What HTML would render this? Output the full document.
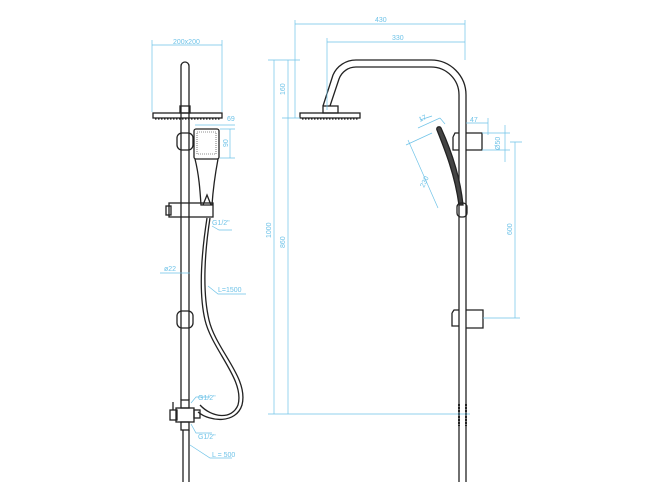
<!DOCTYPE html>
<html><head><meta charset="utf-8"><style>
html,body{margin:0;padding:0;background:#fff}
svg{display:block}
text{font-family:"Liberation Sans",sans-serif;font-size:7px;fill:#6fc3e8}
</style></head><body>
<svg width="670" height="504" viewBox="0 0 670 504" xmlns="http://www.w3.org/2000/svg">
<g fill="none" stroke="#222" stroke-width="1.3">
<!-- LEFT VIEW -->
<path d="M181 400 V66 a4 4 0 0 1 8 0 V400"/>
<path d="M183 430 V482 M189 430 V482"/>
<rect x="180" y="106" width="10" height="7"/>
<rect x="153" y="113" width="69" height="5"/>
<line x1="155" y1="119" x2="220" y2="119" stroke-dasharray="1.5 1.5"/>
<rect x="177" y="133" width="16" height="17" rx="5"/>
<rect x="177" y="311" width="16" height="17" rx="5"/>
<!-- handset -->
<rect x="194" y="129" width="25" height="30" rx="2"/>
<rect x="197" y="132" width="19" height="22" stroke-width="0.6" stroke-dasharray="1 1"/>
<path d="M195 159 C199 175 200 190 201 205 L212 205 C213 190 215 175 218 159"/>
<path d="M203 205 L207 195 L211 205"/>
<rect x="169" y="203" width="44" height="14"/>
<rect x="166" y="206" width="5" height="9"/>
<!-- hose -->
<path d="M207 218 C202 250 198 290 205 320 C212 350 245 380 238 405 C232 420 212 418 200 405"/>
<path d="M210 218 C205 250 202 290 209 320 C216 350 249 378 242 405 C236 424 210 422 198 412"/>
<!-- mixer -->
<rect x="181" y="400" width="8" height="8"/>
<rect x="176" y="408" width="18" height="14"/>
<rect x="170" y="410" width="7" height="10"/>
<line x1="173" y1="402" x2="173" y2="410"/>
<rect x="194" y="410" width="6" height="8"/>
<rect x="181" y="422" width="8" height="8"/>
<!-- RIGHT VIEW -->
<path d="M459 482 V95 a28 28 0 0 0 -28 -28 H356 a18 18 0 0 0 -17 12 L330 106"/>
<path d="M466 482 V95 a35 35 0 0 0 -35 -35 H356 a25 25 0 0 0 -23 15 L323 106"/>
<rect x="323" y="106" width="15" height="7"/>
<rect x="300" y="113" width="60" height="5"/>
<line x1="302" y1="119" x2="358" y2="119" stroke-dasharray="1.5 1.5"/>
<path d="M453 137 V150 H459 M466 133 H482 V150 H466 M459 133 H455 L453 137"/>
<path d="M452 313 V326 H459 M466 310 H483 V328 H466 M459 310 H454 L452 313"/>
<path d="M437 130 C445 150 455 175 459 205 L463 205 C460 175 451 150 441 128 a2 2 0 0 0 -4 2 Z" fill="#444"/>
<rect x="457" y="203" width="10" height="14" rx="4"/>
<path d="M459 404 V426 M466 404 V426" stroke-dasharray="2 1" stroke-width="2"/>
</g>
<g stroke="#6fc3e8" stroke-width="0.7" fill="none">
<path d="M152 45 H222 M152 40 V112 M222 40 V112"/>
<path d="M195 125 H235 M230 129 V158 M220 129 H235 M220 158 H235"/>
<path d="M160 273 H190 M212 226 L219 230 H232 M208 286 L218 294 H246 M191 403 L196 397 H210 M191 424 L196 433 H212 M190 445 L210 458 H232"/>
<path d="M295 24 H465 M295 20 V118 M327 42 H465 M327 38 V110 M465 20 V60"/>
<path d="M274 60 V414 M288 60 V414 M268 60 H300 M282 118 H300 M268 414 H470"/>
<path d="M466 123 H488 M488 118 V135 M505 125 V162 M482 133 H510 M482 150 H510 M515 142 V318 M483 318 H520 M510 142 H522"/>
<path d="M418 128 L440 118 M440 118 L445 124 M406 145 L432 133 M408 140 L438 208 M420 120 L432 116"/>
</g>
<text x="173" y="44">200x200</text>
<text x="227" y="121">69</text>
<text x="228" y="147" transform="rotate(-90 228 147)">90</text>
<text x="212" y="225">G1/2"</text>
<text x="164" y="271">ø22</text>
<text x="218" y="292">L=1500</text>
<text x="198" y="400">G1/2"</text>
<text x="198" y="439">G1/2"</text>
<text x="212" y="457">L = 500</text>
<text x="375" y="22">430</text>
<text x="392" y="40">330</text>
<text x="285" y="95" transform="rotate(-90 285 95)">160</text>
<text x="271" y="238" transform="rotate(-90 271 238)">1000</text>
<text x="285" y="248" transform="rotate(-90 285 248)">860</text>
<text x="420" y="122" transform="rotate(-25 420 122)">17</text>
<text x="470" y="122">47</text>
<text x="500" y="150" transform="rotate(-90 500 150)">Ø50</text>
<text x="424" y="188" transform="rotate(-65 424 188)">230</text>
<text x="512" y="235" transform="rotate(-90 512 235)">600</text>
</svg>
</body></html>
